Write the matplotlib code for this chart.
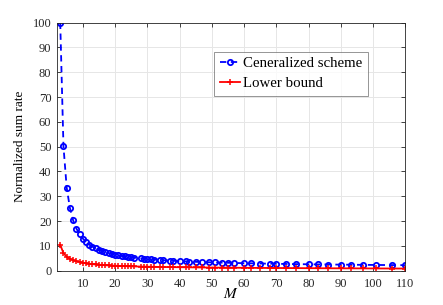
import matplotlib
matplotlib.use("Agg")
import matplotlib.pyplot as plt

M = list(range(3, 25)) + [25, 26, 28, 29, 30, 31, 32, 34, 35, 37, 38, 40, 42, 43, 45, 47,
                          49, 51, 53, 55, 57, 60, 62, 65, 68, 70, 73, 76, 80, 83, 86, 90,
                          93, 97, 101, 106, 110]

generalized = [100.0, 50.1, 33.5, 25.25, 20.3, 17.0, 14.7, 12.95, 11.6, 10.55, 9.7, 9.0,
               8.4, 7.9, 7.45, 7.1, 6.8, 6.5, 6.23, 6.0, 5.78, 5.59,
               5.41, 5.25, 4.95, 4.82, 4.71, 4.6, 4.49, 4.3, 4.22, 4.06, 3.99, 3.85,
               3.73, 3.68, 3.58, 3.48, 3.4, 3.32, 3.25, 3.19, 3.12, 3.02, 2.97, 2.89,
               2.82, 2.77, 2.71, 2.65, 2.58, 2.53, 2.49, 2.44, 2.4, 2.35, 2.31, 2.26, 2.23]

lower = [10.4, 7.1, 5.6, 4.8, 4.2, 3.8, 3.5, 3.2, 3.0, 2.8, 2.65, 2.5, 2.4, 2.3, 2.2,
         2.12, 2.05, 2.0, 1.94, 1.89, 1.84, 1.8,
         1.76, 1.72, 1.66, 1.63, 1.6, 1.58, 1.55, 1.51, 1.49, 1.45, 1.43, 1.4, 1.37,
         1.35, 1.33, 1.3, 1.28, 1.25, 1.23, 1.21, 1.19, 1.16, 1.14, 1.12, 1.09, 1.08,
         1.06, 1.04, 1.01, 0.99, 0.97, 0.95, 0.94, 0.92, 0.9, 0.88, 0.86]

xticks = list(range(10, 111, 10))
yticks = list(range(0, 101, 10))
legend_labels = ["Ceneralized scheme", "Lower bound"]

plt.rcParams['font.family'] = ['Liberation Serif', 'DejaVu Serif']
plt.rcParams['mathtext.fontset'] = 'stix'

fig = plt.figure(figsize=(4.43, 3.05), dpi=100)
ax = fig.add_axes([0.1287, 0.1125, 0.915 - 0.1287, 0.9256 - 0.1125])

ax.plot(M, generalized, color=(0, 0, 1), linestyle=(0, (3.5, 2.5)), linewidth=1.3,
        marker='o', markersize=3.8, markerfacecolor='none', markeredgewidth=1.3,
        label=legend_labels[0])
ax.plot(M, lower, color=(1, 0, 0), linestyle='-', linewidth=1.3,
        marker='+', markersize=4.5, markeredgewidth=1.1, label=legend_labels[1])

ax.set_xlim(2, 110)
ax.set_ylim(0, 100)
ax.set_xticks(xticks)
ax.set_yticks(yticks)
ax.grid(True, color=(0.9, 0.9, 0.9), linewidth=0.7)
ax.set_axisbelow(True)
ax.tick_params(direction='in', top=True, right=True, length=3, width=0.6,
               labelsize=9, colors=(0.15, 0.15, 0.15))
ax.tick_params(axis='x', pad=5)
ax.tick_params(axis='y', pad=4)
for s in ax.spines.values():
    s.set_color((0.15, 0.15, 0.15))
    s.set_linewidth(0.6)

ax.set_xlabel('$M$', fontsize=11, labelpad=-2)
ax.set_ylabel('Normalized sum rate', fontsize=9.5, labelpad=5)

leg = ax.legend(loc='upper left', bbox_to_anchor=(0.452, 0.883), fontsize=10.7,
                frameon=True, fancybox=False, edgecolor=(0.4, 0.4, 0.4),
                handlelength=1.4, handletextpad=0.2, borderpad=0.35, labelspacing=0.45,
                borderaxespad=0)
leg.get_frame().set_linewidth(0.6)

fig.savefig('out.png', dpi=100)
